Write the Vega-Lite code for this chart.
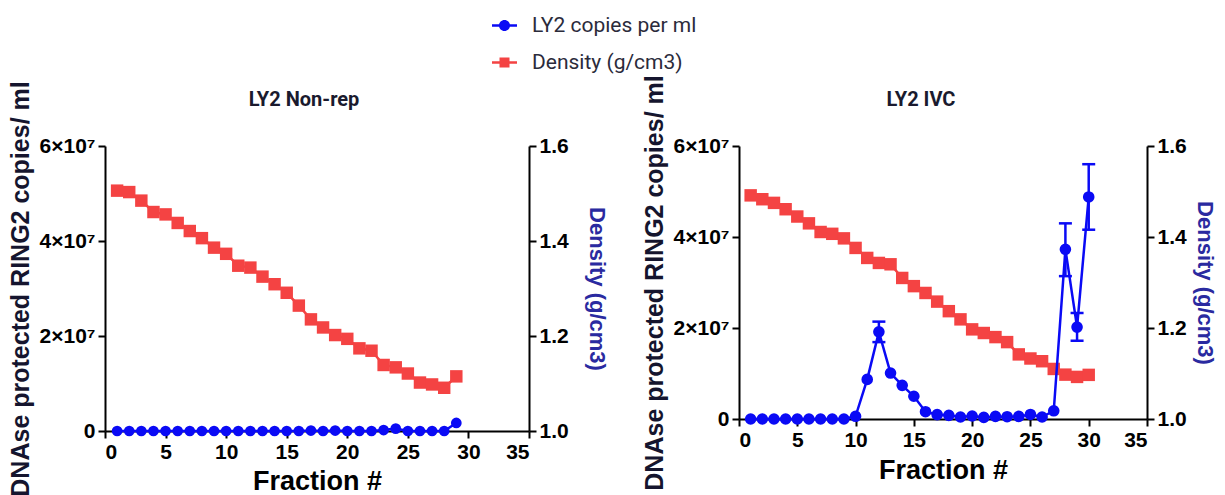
{
  "$schema": "https://vega.github.io/schema/vega-lite/v6.json",
  "background": "white",
  "padding": {"left": 8, "top": 13, "right": 0, "bottom": 0},
  "datasets": {
    "nonrep": [
      {"fraction": 1, "copies": 0, "density": 1.506},
      {"fraction": 2, "copies": 0, "density": 1.503},
      {"fraction": 3, "copies": 0, "density": 1.485},
      {"fraction": 4, "copies": 0, "density": 1.461},
      {"fraction": 5, "copies": 0, "density": 1.456},
      {"fraction": 6, "copies": 0, "density": 1.438},
      {"fraction": 7, "copies": 0, "density": 1.421},
      {"fraction": 8, "copies": 0, "density": 1.406},
      {"fraction": 9, "copies": 0, "density": 1.386},
      {"fraction": 10, "copies": 0, "density": 1.373},
      {"fraction": 11, "copies": 0, "density": 1.348},
      {"fraction": 12, "copies": 0, "density": 1.344},
      {"fraction": 13, "copies": 0, "density": 1.325},
      {"fraction": 14, "copies": 0, "density": 1.309},
      {"fraction": 15, "copies": 0, "density": 1.291},
      {"fraction": 16, "copies": 0, "density": 1.264},
      {"fraction": 17, "copies": 100000, "density": 1.235},
      {"fraction": 18, "copies": 0, "density": 1.218},
      {"fraction": 19, "copies": 100000, "density": 1.202},
      {"fraction": 20, "copies": 0, "density": 1.194},
      {"fraction": 21, "copies": 0, "density": 1.174},
      {"fraction": 22, "copies": 0, "density": 1.169},
      {"fraction": 23, "copies": 200000, "density": 1.139},
      {"fraction": 24, "copies": 500000, "density": 1.134},
      {"fraction": 25, "copies": 0, "density": 1.121},
      {"fraction": 26, "copies": 0, "density": 1.102},
      {"fraction": 27, "copies": 0, "density": 1.098},
      {"fraction": 28, "copies": 0, "density": 1.091},
      {"fraction": 29, "copies": 1700000, "density": 1.115}
    ],
    "ivc": [
      {"fraction": 1, "copies": 0, "density": 1.4915},
      {"fraction": 2, "copies": 0, "density": 1.483},
      {"fraction": 3, "copies": 0, "density": 1.475},
      {"fraction": 4, "copies": 0, "density": 1.461},
      {"fraction": 5, "copies": 0, "density": 1.445},
      {"fraction": 6, "copies": 0, "density": 1.43},
      {"fraction": 7, "copies": 0, "density": 1.411},
      {"fraction": 8, "copies": 0, "density": 1.407},
      {"fraction": 9, "copies": 0, "density": 1.397},
      {"fraction": 10, "copies": 600000, "density": 1.376},
      {"fraction": 11, "copies": 8700000, "density": 1.354},
      {"fraction": 12, "copies": 19150000, "density": 1.343, "lo": 16900000, "hi": 21400000},
      {"fraction": 13, "copies": 10100000, "density": 1.34},
      {"fraction": 14, "copies": 7400000, "density": 1.31},
      {"fraction": 15, "copies": 5000000, "density": 1.292},
      {"fraction": 16, "copies": 1600000, "density": 1.277},
      {"fraction": 17, "copies": 950000, "density": 1.258},
      {"fraction": 18, "copies": 800000, "density": 1.237},
      {"fraction": 19, "copies": 440000, "density": 1.219},
      {"fraction": 20, "copies": 660000, "density": 1.197},
      {"fraction": 21, "copies": 350000, "density": 1.189},
      {"fraction": 22, "copies": 570000, "density": 1.18},
      {"fraction": 23, "copies": 500000, "density": 1.169},
      {"fraction": 24, "copies": 570000, "density": 1.142},
      {"fraction": 25, "copies": 1000000, "density": 1.133},
      {"fraction": 26, "copies": 440000, "density": 1.127},
      {"fraction": 27, "copies": 1800000, "density": 1.11},
      {"fraction": 28, "copies": 37300000, "density": 1.0975, "lo": 31400000, "hi": 43000000},
      {"fraction": 29, "copies": 20200000, "density": 1.0925, "lo": 17200000, "hi": 23300000},
      {"fraction": 30, "copies": 48800000, "density": 1.097, "lo": 41600000, "hi": 56000000}
    ]
  },
  "config": {
    "view": {"stroke": null},
    "axis": {
      "grid": false,
      "domainColor": "#000000",
      "domainWidth": 2,
      "tickColor": "#000000",
      "tickWidth": 2,
      "tickSize": 7,
      "labelFont": "Liberation Sans",
      "labelFontSize": 21,
      "labelFontWeight": "bold",
      "labelColor": "#000000",
      "labelPadding": 3,
      "titleFont": "Liberation Sans",
      "titleFontWeight": "bold",
      "titleFontSize": 23,
      "titleColor": "#15152e"
    },
    "title": {"font": "Roboto", "fontSize": 20, "fontWeight": "bold", "color": "#1a1a2e", "frame": "group"},
    "legend": {"labelFont": "Roboto", "labelFontSize": 21, "labelColor": "#2b2b3b", "labelLimit": 400}
  },
  "hconcat": [
    {
      "width": 424,
      "height": 285,
      "data": {"name": "nonrep"},
      "title": {"text": "LY2 Non-rep", "dx": -13, "offset": -29},
      "encoding": {
        "x": {"field": "fraction", "type": "quantitative", "scale": {"domain": [0, 35], "nice": false},
          "axis": {"values": [0, 5, 10, 15, 20, 25, 30, 35], "title": "Fraction #", "titleFontSize": 27, "titleColor": "#000000", "titlePadding": 6}}
      },
      "layer": [
        {
          "encoding": {
            "y": {"field": "density", "type": "quantitative", "scale": {"domain": [1.0, 1.6], "nice": false, "zero": false},
              "axis": {"orient": "right", "values": [1.0, 1.2, 1.4, 1.6], "format": ".1f", "title": "Density (g/cm3)", "titleFontSize": 22, "titleColor": "#2a2aa0", "titlePadding": 16}}
          },
          "layer": [
            {"mark": {"type": "line", "color": "#f44343", "strokeWidth": 2.5}},
            {"mark": {"type": "point", "shape": "square", "filled": true, "size": 155, "color": "#f44343", "opacity": 1}}
          ]
        },
        {
          "encoding": {
            "y": {"field": "copies", "type": "quantitative", "scale": {"domain": [0, 60000000], "nice": false},
              "axis": {"orient": "left", "values": [0, 20000000, 40000000, 60000000], "labelExpr": "datum.value == 0 ? '0' : format(datum.value / 10000000, 'd') + '×10⁷'", "title": "DNAse protected RING2 copies/ ml", "titleFontSize": 25, "titlePadding": 6}}
          },
          "layer": [
            {"mark": {"type": "line", "color": "#0a0af5", "strokeWidth": 2.5}},
            {"mark": {"type": "point", "shape": "circle", "filled": true, "size": 115, "color": "#0a0af5", "opacity": 1}},
            {
              "transform": [{"filter": "false"}],
              "mark": {"type": "point", "filled": true, "opacity": 1},
              "encoding": {
                "color": {"field": "series", "type": "nominal",
                  "scale": {"domain": ["LY2 copies per ml", "Density (g/cm3)"], "range": ["#0a0af5", "#f44343"]},
                  "legend": {"title": null, "orient": "none", "legendX": 387, "legendY": -133, "symbolSize": 625, "rowPadding": 14, "labelOffset": 15, "symbolStrokeWidth": 0, "symbolOpacity": 1, "labelLimit": 400}},
                "shape": {"field": "series", "type": "nominal",
                  "scale": {"domain": ["LY2 copies per ml", "Density (g/cm3)"], "range": ["M-1,-0.1H1V0.1H-1Z M0.44,0A0.44,0.44 0 1,1 -0.44,0A0.44,0.44 0 1,1 0.44,0Z", "M-1,-0.1H1V0.1H-1Z M-0.4,-0.4H0.4V0.4H-0.4Z"]},
                  "legend": {"title": null, "orient": "none", "legendX": 387, "legendY": -133, "symbolSize": 625, "rowPadding": 14, "labelOffset": 15, "symbolStrokeWidth": 0, "symbolOpacity": 1, "labelLimit": 400}}
              }
            }
          ]
        }
      ],
      "resolve": {"scale": {"y": "independent"}}
    },
    {
      "width": 408,
      "height": 273,
      "data": {"name": "ivc"},
      "title": {"text": "LY2 IVC", "dx": -22, "offset": -35},
      "encoding": {
        "x": {"field": "fraction", "type": "quantitative", "scale": {"domain": [0, 35], "nice": false},
          "axis": {"values": [0, 5, 10, 15, 20, 25, 30, 35], "title": "Fraction #", "titleFontSize": 27, "titleColor": "#000000", "titlePadding": 7}}
      },
      "layer": [
        {
          "encoding": {
            "y": {"field": "density", "type": "quantitative", "scale": {"domain": [1.0, 1.6], "nice": false, "zero": false},
              "axis": {"orient": "right", "values": [1.0, 1.2, 1.4, 1.6], "format": ".1f", "title": "Density (g/cm3)", "titleFontSize": 22, "titleColor": "#2a2aa0", "titlePadding": 6}}
          },
          "layer": [
            {"mark": {"type": "line", "color": "#f44343", "strokeWidth": 2.5}},
            {"mark": {"type": "point", "shape": "square", "filled": true, "size": 155, "color": "#f44343", "opacity": 1}}
          ]
        },
        {
          "encoding": {
            "y": {"field": "copies", "type": "quantitative", "scale": {"domain": [0, 60000000], "nice": false},
              "axis": {"orient": "left", "values": [0, 20000000, 40000000, 60000000], "labelExpr": "datum.value == 0 ? '0' : format(datum.value / 10000000, 'd') + '×10⁷'", "title": "DNAse protected RING2 copies/ ml", "titleFontSize": 25, "titlePadding": 6}}
          },
          "layer": [
            {"transform": [{"filter": "isValid(datum.lo)"}], "mark": {"type": "rule", "color": "#0a0af5", "strokeWidth": 2.5}, "encoding": {"y": {"field": "lo", "type": "quantitative"}, "y2": {"field": "hi"}}},
            {"transform": [{"filter": "isValid(datum.lo)"}], "mark": {"type": "tick", "orient": "horizontal", "color": "#0a0af5", "thickness": 2.5, "size": 13, "opacity": 1}, "encoding": {"y": {"field": "lo", "type": "quantitative"}}},
            {"transform": [{"filter": "isValid(datum.hi)"}], "mark": {"type": "tick", "orient": "horizontal", "color": "#0a0af5", "thickness": 2.5, "size": 13, "opacity": 1}, "encoding": {"y": {"field": "hi", "type": "quantitative"}}},
            {"mark": {"type": "line", "color": "#0a0af5", "strokeWidth": 2.5}},
            {"mark": {"type": "point", "shape": "circle", "filled": true, "size": 135, "color": "#0a0af5", "opacity": 1}}
          ]
        }
      ],
      "resolve": {"scale": {"y": "independent"}}
    }
  ],
  "spacing": 210,
  "bounds": "flush"
}
